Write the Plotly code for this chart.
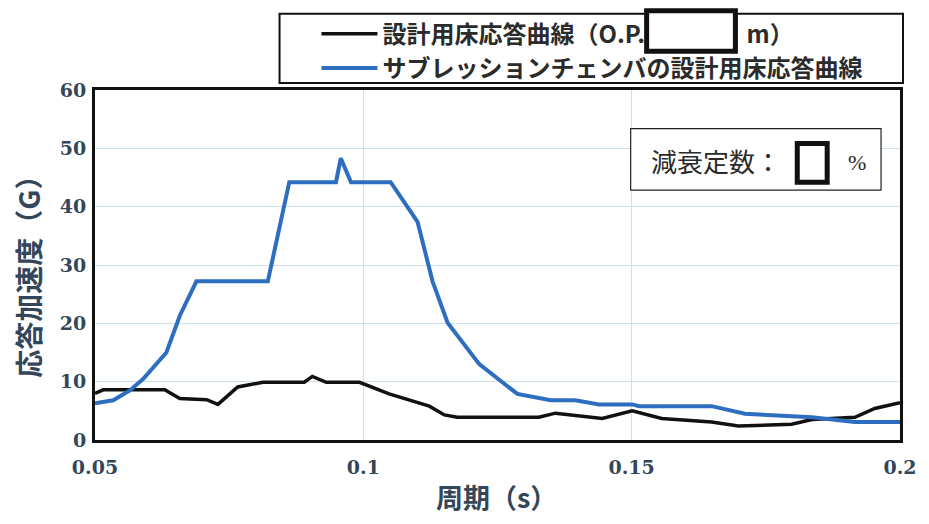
import plotly.graph_objects as go

# ---- data ----
period_blue = [0.05, 0.0534, 0.0565, 0.059, 0.0633, 0.0658, 0.0689, 0.0822, 0.0862, 0.0949,
               0.0958, 0.0977, 0.1051, 0.1101, 0.1129, 0.1157, 0.1216, 0.1287, 0.1349, 0.1395,
               0.1439, 0.1501, 0.1514, 0.1649, 0.1711, 0.1836, 0.1916, 0.2]
accel_blue = [6.3, 6.8, 8.5, 10.5, 15.0, 21.3, 27.2, 27.2, 44.2, 44.2,
              48.3, 44.2, 44.2, 37.4, 27.2, 20.1, 13.0, 7.9, 6.8, 6.8,
              6.1, 6.1, 5.8, 5.8, 4.5, 3.9, 3.1, 3.1]

period_black = [0.05, 0.0515, 0.063, 0.0658, 0.0708, 0.0729, 0.0766, 0.0813, 0.089, 0.0905,
                0.0931, 0.0993, 0.1048, 0.1123, 0.1151, 0.1175, 0.1327, 0.1358, 0.1445, 0.1501,
                0.1556, 0.1649, 0.1699, 0.1798, 0.1836, 0.1916, 0.1953, 0.2]
accel_black = [8.0, 8.6, 8.6, 7.1, 6.9, 6.1, 9.1, 9.9, 9.9, 10.9,
               9.9, 9.9, 7.9, 5.8, 4.3, 3.9, 3.9, 4.6, 3.7, 5.0,
               3.7, 3.1, 2.4, 2.7, 3.5, 3.9, 5.4, 6.4]

name_black = "設計用床応答曲線（O.P.　　　　 m）"
name_blue = "サブレッションチェンバの設計用床応答曲線"

x_ticks = [0.05, 0.1, 0.15, 0.2]
x_ticklabels = ["0.05", "0.1", "0.15", "0.2"]
y_ticks = [0, 10, 20, 30, 40, 50, 60]

# ---- layout constants (pixels) ----
W, H = 929, 524
L, R, T, B = 95, 27, 87, 84
PW, PH = W - L - R, H - T - B


def px(xp):
    return (xp - L) / PW


def py(yp):
    return (H - B - yp) / PH


axis_color = "#34475a"

fig = go.Figure()
fig.add_trace(go.Scatter(x=period_black, y=accel_black, mode="lines", name=name_black,
                         line=dict(color="#111111", width=3.5)))
fig.add_trace(go.Scatter(x=period_blue, y=accel_blue, mode="lines", name=name_blue,
                         line=dict(color="#2e6ec0", width=4)))

shapes = [
    # legend frame
    dict(type="rect", xref="paper", yref="paper", x0=px(280), x1=px(905), y0=py(80), y1=py(10),
         line=dict(color="#111111", width=2), fillcolor="rgba(0,0,0,0)", layer="above"),
    # redaction box in legend
    dict(type="rect", xref="paper", yref="paper", x0=px(648), x1=px(737), y0=py(48), y1=py(7),
         line=dict(color="#111111", width=5), fillcolor="white", layer="above"),
    # damping annotation box
    dict(type="rect", xref="paper", yref="paper", x0=px(632), x1=px(883), y0=py(188), y1=py(126),
         line=dict(color="#222222", width=1.2), fillcolor="white", layer="above"),
    # redaction box in annotation
    dict(type="rect", xref="paper", yref="paper", x0=px(799), x1=px(829), y0=py(180), y1=py(141),
         line=dict(color="#111111", width=5), fillcolor="white", layer="above"),
]

annotations = [
    dict(text="減衰定数：", xref="paper", yref="paper", x=px(650), y=py(158), xanchor="left",
         yanchor="middle", showarrow=False,
         font=dict(family="Noto Sans CJK JP", size=26, color="#2a2a2a")),
    dict(text="%", xref="paper", yref="paper", x=px(848), y=py(160), xanchor="left",
         yanchor="middle", showarrow=False,
         font=dict(family="Liberation Serif", size=22, color="#2a2a2a")),
    dict(text="応答加速度（G）", xref="paper", yref="paper", x=px(28), y=py(268),
         xanchor="center", yanchor="middle", textangle=-90, showarrow=False,
         font=dict(family="Noto Sans CJK JP", size=28, color=axis_color, weight="bold")),
    dict(text="周期（s）", xref="paper", yref="paper", x=px(497), y=py(497),
         xanchor="center", yanchor="middle", showarrow=False,
         font=dict(family="Noto Sans CJK JP", size=27, color=axis_color, weight="bold")),
]

fig.update_layout(
    width=W, height=H,
    margin=dict(l=L, r=R, t=T, b=B),
    paper_bgcolor="white", plot_bgcolor="white",
    showlegend=True,
    legend=dict(x=px(317), y=py(8), xanchor="left", yanchor="top",
                bgcolor="rgba(0,0,0,0)", borderwidth=0, itemwidth=56,
                tracegroupgap=0,
                font=dict(family="Noto Sans CJK JP", size=24, color="#2b2b2b", weight="bold")),
    shapes=shapes,
    annotations=annotations,
    xaxis=dict(range=[0.05, 0.2], tickvals=x_ticks, ticktext=x_ticklabels,
               showgrid=True, gridcolor="#cfe1ee", gridwidth=1,
               showline=True, linecolor="#111111", linewidth=3, mirror=True,
               zeroline=False, ticks="", ticklabelstandoff=8,
               tickfont=dict(family="DejaVu Serif", size=19, color=axis_color, weight="bold")),
    yaxis=dict(range=[0, 60], tickvals=y_ticks,
               showgrid=True, gridcolor="#cfe1ee", gridwidth=1,
               showline=True, linecolor="#111111", linewidth=3, mirror=True,
               zeroline=False, ticks="", ticklabelstandoff=2,
               tickfont=dict(family="DejaVu Serif", size=19, color=axis_color, weight="bold")),
)

fig.write_html("out.html", config={"displayModeBar": False},
               post_script="document.body.style.margin='0';")
